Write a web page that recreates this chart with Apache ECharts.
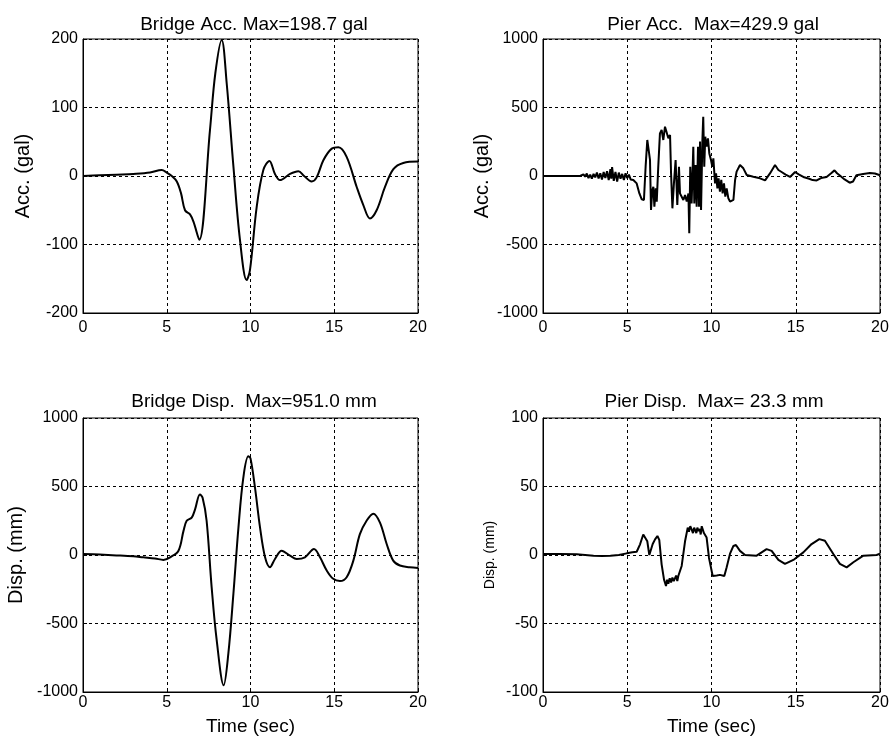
<!DOCTYPE html>
<html>
<head>
<meta charset="utf-8">
<script src="https://cdn.jsdelivr.net/npm/echarts@6/dist/echarts.min.js"></script>
<style>
html,body{margin:0;padding:0;background:#fff;}
#c{width:893px;height:737px;}
</style>
</head>
<body>
<div id="c"></div>
<script>
// ---- data: [time (sec), value] ----
var bridgeAcc = [[0,0],[1,1],[2,2],[3,3],[4,5],[4.7,8.8],[5.0,5],[5.3,0],[5.6,-8],[5.85,-25],[6.09,-50],[6.39,-56],[6.6,-67],[6.94,-93],[7.58,67],[7.9,150],[8.28,198.7],[8.58,135],[8.98,14],[9.37,-93],[9.77,-152],[9.97,-137],[10.37,-45],[10.77,9],[11.13,22],[11.46,3],[11.76,-6],[12.36,3],[12.86,7],[13.2,0],[13.65,-8],[13.95,-2],[14.35,23],[14.85,40],[15.25,42],[15.74,28],[16.34,-16],[16.73,-42],[17.13,-62],[17.53,-50],[18.03,-16],[18.53,10],[19.12,19],[20,21]];

var pierAcc = [[0,0],[1,0],[2.2,0],[2.3,-8],[2.4,12],[2.5,-5],[2.6,18],[2.7,-15],[2.8,10],[2.9,-20],[3.0,15],[3.1,-10],[3.2,25],[3.3,-18],[3.4,20],[3.5,-25],[3.6,30],[3.7,-15],[3.8,35],[3.9,-30],[4.0,50],[4.05,-20],[4.1,65],[4.2,-35],[4.3,30],[4.4,-40],[4.5,25],[4.6,-20],[4.7,15],[4.8,-30],[4.9,20],[5.0,-15],[5.1,10],[5.2,-25],[5.36,-29],[5.56,-54],[5.72,-127],[5.86,-170],[5.99,-175],[6.09,68],[6.19,263],[6.29,251],[6.35,117],[6.41,-248],[6.49,-102],[6.55,-78],[6.61,-224],[6.69,-90],[6.75,-187],[6.84,68],[6.94,311],[7.04,336],[7.14,263],[7.24,360],[7.34,372],[7.44,275],[7.54,299],[7.6,19],[7.68,-236],[7.77,-54],[7.87,117],[7.97,-212],[8.07,68],[8.13,-127],[8.23,-151],[8.33,-175],[8.43,-139],[8.53,-187],[8.63,-127],[8.68,-418],[8.74,68],[8.82,-200],[8.92,214],[8.98,-200],[9.06,80],[9.12,-224],[9.2,214],[9.26,-224],[9.32,251],[9.38,-248],[9.46,263],[9.51,433],[9.57,68],[9.63,287],[9.71,214],[9.79,275],[9.87,165],[9.97,117],[10.05,68],[10.11,129],[10.21,-54],[10.27,19],[10.35,-90],[10.42,-17],[10.5,-114],[10.58,-29],[10.66,-127],[10.74,-54],[10.82,-151],[10.9,-90],[11.0,-163],[11.1,-187],[11.2,-200],[11.3,-175],[11.4,-29],[11.49,32],[11.69,80],[11.89,56],[12.09,7],[12.48,-5],[12.88,-17],[13.18,-32],[13.47,19],[13.77,80],[13.97,44],[14.16,29],[14.4,10],[14.66,-7],[14.96,29],[15.2,10],[15.45,-7],[15.8,-20],[16.0,-30],[16.24,-32],[16.5,-15],[16.83,-7],[17.1,20],[17.3,41],[17.45,20],[17.6,5],[17.9,-25],[18.2,-49],[18.4,-40],[18.6,5],[19.0,15],[19.4,22],[19.7,18],[20,5]];

var bridgeDisp = [[0,7],[1,3],[2,-3],[3,-10],[3.6,-17],[4.3,-25],[4.8,-36],[5.2,-17],[5.7,31],[6.0,176],[6.19,250],[6.49,273],[6.69,333],[6.98,442],[7.14,418],[7.38,250],[7.68,-234],[7.98,-620],[8.4,-951],[8.68,-717],[8.98,-282],[9.28,200],[9.57,563],[9.87,720],[10.0,705],[10.27,490],[10.57,200],[10.87,-17],[11.16,-89],[11.46,-29],[11.86,31],[12.36,-5],[12.76,-29],[13.25,-17],[13.79,43],[14.15,-17],[14.55,-113],[14.94,-174],[15.34,-190],[15.74,-162],[16.14,-41],[16.53,152],[16.93,250],[17.33,302],[17.73,237],[18.13,80],[18.52,-41],[18.92,-77],[19.5,-89],[20,-94]];

var pierDisp = [[0,0.7],[1,0.8],[2,0.6],[3,-0.5],[3.5,-0.8],[4,-0.5],[4.5,0],[4.97,1.2],[5.3,2],[5.56,2.4],[5.76,7.8],[5.95,15],[6.05,16.3],[6.19,10],[6.31,0],[6.39,0.5],[6.51,8],[6.65,11.4],[6.79,13.9],[6.9,11],[7.04,-6.8],[7.18,-17.8],[7.3,-22.6],[7.37,-18],[7.44,-21],[7.52,-17],[7.6,-20],[7.68,-16.5],[7.76,-19],[7.83,-17.8],[7.9,-15],[7.97,-19],[8.03,-15.3],[8.13,-16.5],[8.23,-8],[8.43,10],[8.59,20],[8.66,17],[8.74,21],[8.82,18.7],[8.9,16],[8.97,20],[9.02,19],[9.1,16],[9.16,20],[9.22,17.5],[9.3,19],[9.36,15],[9.42,21],[9.55,16],[9.71,12.7],[9.85,-2],[10.07,-15.3],[10.31,-15],[10.5,-14.5],[10.76,-15.3],[10.9,-9],[11.1,1],[11.3,6.6],[11.45,7.3],[11.69,3],[11.99,0],[12.68,-0.5],[13.27,4.3],[13.57,3],[13.97,-3.6],[14.36,-6.5],[14.86,-3.6],[15.45,1.9],[15.94,8],[16.4,11.6],[16.73,10.4],[17.23,0.7],[17.62,-6.5],[18.02,-9],[18.42,-5.3],[19.01,-0.5],[19.8,0],[20,1]];

var panelTitles = ['Bridge Acc. Max=198.7 gal', 'Pier Acc.  Max=429.9 gal', 'Bridge Disp.  Max=951.0 mm', 'Pier Disp.  Max= 23.3 mm'];
var yNames = ['Acc. (gal)', 'Acc. (gal)', 'Disp. (mm)', 'Disp. (mm)'];
var yRanges = [[-200,200,100],[-1000,1000,500],[-1000,1000,500],[-100,100,50]];
var xRange = [0,20,5];
var xName = 'Time (sec)';

// ---- layout ----
var FONT = '"Liberation Sans", Arial, sans-serif';
var grids = [
  {left:83, top:39, width:335, height:274},
  {left:543, top:39, width:337, height:274},
  {left:83, top:418, width:335, height:274},
  {left:543, top:418, width:337, height:274}
];
var titleCenters = [249, 708, 249, 709];
var titleTops = [10, 10, 387, 387];
var nameGaps = [50, 51, 57, 46];
var nameSizes = [20, 20, 20, 14];
var xLabelMargins = [7, 7, 3, 3];
var seriesData = [bridgeAcc, pierAcc, bridgeDisp, pierDisp];
var smoothFlags = [0.35, false, 0.35, false];

var option = {
  animation:false,
  backgroundColor:'#fff',
  title:[], grid:[], xAxis:[], yAxis:[], series:[]
};
var dash = {color:'#000', width:1, type:[3,3]};
function plain(v){ return String(v); }
for (var i=0;i<4;i++){
  var g = grids[i];
  option.grid.push({left:g.left, top:g.top, width:g.width, height:g.height, show:true, borderColor:'#000', borderWidth:1, backgroundColor:'transparent'});
  option.title.push({text:panelTitles[i], left:titleCenters[i], top:titleTops[i], textAlign:'center',
    textStyle:{fontFamily:FONT, fontSize:19, fontWeight:'normal', color:'#000'}});
  option.xAxis.push({type:'value', gridIndex:i, min:xRange[0], max:xRange[1], interval:xRange[2],
    axisLine:{show:true, onZero:false, lineStyle:{color:'#000', width:1}},
    axisTick:{show:true, inside:true, length:4, lineStyle:{color:'#000'}},
    axisLabel:{color:'#000', fontFamily:FONT, fontSize:16, margin:xLabelMargins[i], showMinLabel:true, showMaxLabel:true, formatter:plain},
    splitLine:{show:true, lineStyle:dash},
    name: i>=2 ? xName : '', nameLocation:'middle', nameGap:25,
    nameTextStyle:{fontFamily:FONT, fontSize:19, color:'#000', verticalAlign:'top'}
  });
  var r = yRanges[i];
  option.yAxis.push({type:'value', gridIndex:i, min:r[0], max:r[1], interval:r[2],
    axisLine:{show:true, onZero:false, lineStyle:{color:'#000', width:1}},
    axisTick:{show:true, inside:true, length:4, lineStyle:{color:'#000'}},
    axisLabel:{color:'#000', fontFamily:FONT, fontSize:16, margin:5, showMinLabel:true, showMaxLabel:true, formatter:plain},
    splitLine:{show:true, lineStyle:dash},
    name:yNames[i], nameLocation:'middle', nameGap:nameGaps[i],
    nameTextStyle:{fontFamily:FONT, fontSize:nameSizes[i], color:'#000'}
  });
  option.series.push({type:'line', xAxisIndex:i, yAxisIndex:i, data:seriesData[i], showSymbol:false,
    smooth:smoothFlags[i], lineStyle:{color:'#000', width:2}, z:5});
}
var chart = echarts.init(document.getElementById('c'), null, {renderer:'canvas'});
chart.setOption(option);
</script>
</body>
</html>
